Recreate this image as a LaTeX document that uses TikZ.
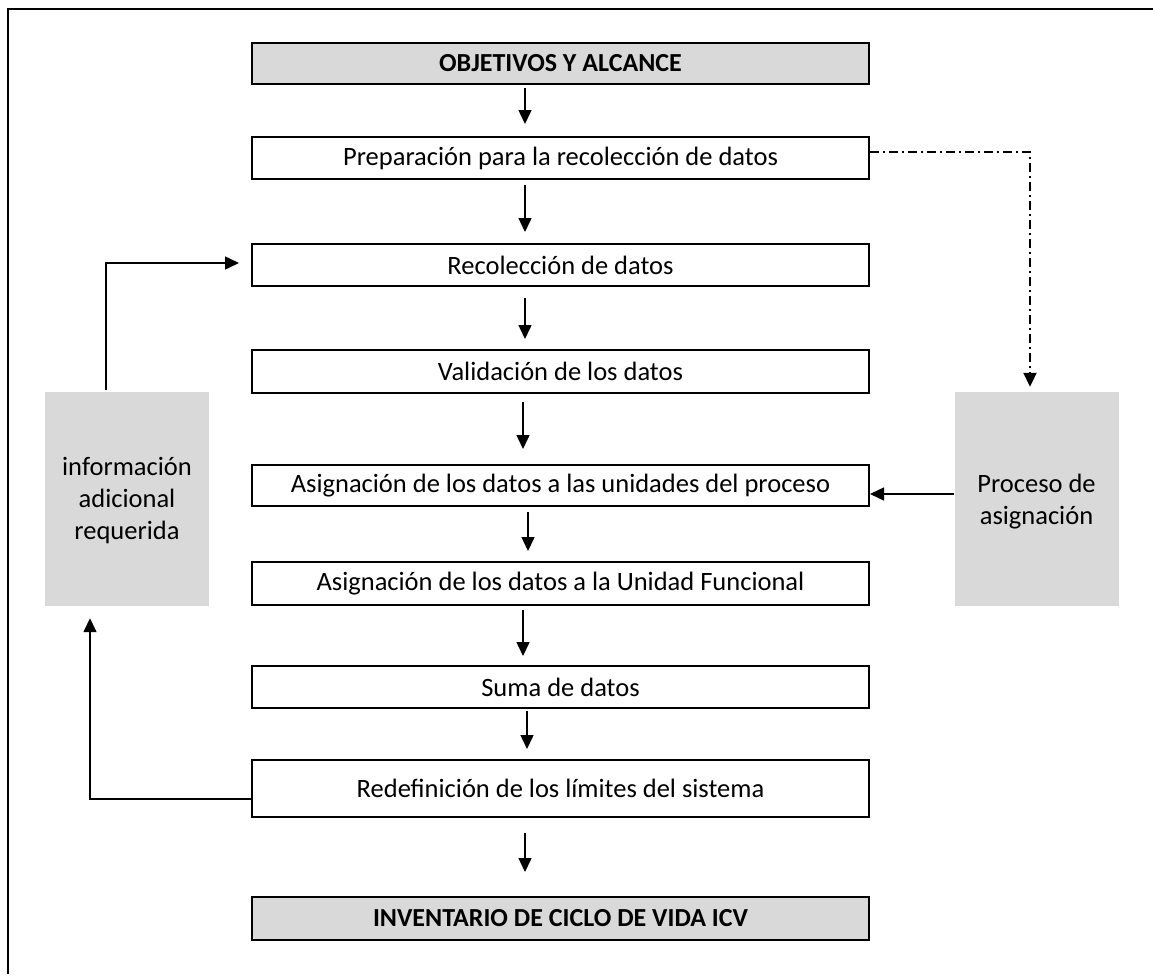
\documentclass[tikz,border=0pt]{standalone}
\usepackage{fontspec}
\setmainfont{Carlito}
\usetikzlibrary{arrows.meta}
\definecolor{boxgray}{HTML}{D9D9D9}
\begin{document}
\begin{tikzpicture}[x=1pt,y=-1pt,
  every node/.style={font=\fontsize{26.5}{32}\selectfont, inner sep=0pt, align=center},
  stage/.style={draw=black, line width=2pt, minimum width=617pt, fill=white},
  keystage/.style={stage, fill=boxgray, font=\fontsize{26}{32}\selectfont\bfseries},
  sidebox/.style={fill=boxgray, minimum width=164pt, minimum height=214pt},
  flow/.style={line width=1.5pt, -{Triangle[width=13pt,length=14pt]}},
  alloc/.style={line width=2pt, dash pattern=on 9pt off 4pt on 2pt off 4pt,
                -{Triangle[width=13pt,length=14pt]}}
]
\useasboundingbox (0,0) rectangle (1153,974);
% outer frame (only its top and left sides fall inside the page)
\draw[line width=2.8pt] (8,974) -- (8,9) -- (1153,9);

% main column
\node[keystage, minimum height=41pt] (obj)   at (560.5,63.5)  {OBJETIVOS Y ALCANCE};
\node[stage, minimum height=42pt]    (prep)  at (560.5,158)   {Preparación para la recolección de datos};
\node[stage, minimum height=42pt]    (recol) at (560.5,265)   {Recolección de datos};
\node[stage, minimum height=43pt]    (valid) at (560.5,371.5) {Validación de los datos};
\node[stage, minimum height=41pt]    (asigu) at (560.5,485.5) {Asignación de los datos a las unidades del proceso};
\node[stage, minimum height=43pt]    (asigf) at (560.5,583.5) {Asignación de los datos a la Unidad Funcional};
\node[stage, minimum height=42pt]    (suma)  at (560.5,687)   {Suma de datos};
\node[stage, minimum height=57pt]    (redef) at (560.5,788.5) {Redefinición de los límites del sistema};
\node[keystage, minimum height=43pt] (inv)   at (560.5,918.5) {INVENTARIO DE CICLO DE VIDA ICV};

% side boxes and their labels
\node[sidebox] (info) at (127,499)    {};
\node (infolabel) at ([yshift=-2pt]info.center) {información\\adicional\\requerida};
\node[sidebox] (proc) at (1036.5,499) {};
\node (proclabel) at ([yshift=-3pt]proc.center) {Proceso de\\asignación};

% downward flow
\draw[flow] ([xshift=-35.5pt,yshift=-3pt]obj.south)   -- ([xshift=-35.5pt,yshift=12pt]prep.north);
\draw[flow] ([xshift=-35.5pt,yshift=-5pt]prep.south)  -- ([xshift=-35.5pt,yshift=11pt]recol.north);
\draw[flow] ([xshift=-35.5pt,yshift=-11pt]recol.south)-- ([xshift=-35.5pt,yshift=10pt]valid.north);
\draw[flow] ([xshift=-37.5pt,yshift=-8pt]valid.south) -- ([xshift=-37.5pt,yshift=15pt]asigu.north);
\draw[flow] ([xshift=-32.5pt,yshift=-5pt]asigu.south) -- ([xshift=-32.5pt,yshift=10pt]asigf.north);
\draw[flow] ([xshift=-37.5pt,yshift=-4pt]asigf.south) -- ([xshift=-37.5pt,yshift=9pt]suma.north);
\draw[flow] ([xshift=-33.5pt,yshift=-2pt]suma.south)  -- ([xshift=-33.5pt,yshift=10pt]redef.north);
\draw[flow] ([xshift=-35.5pt,yshift=-15pt]redef.south)-- ([xshift=-35.5pt,yshift=24pt]inv.north);

% feedback loop on the left
\draw[flow] ([yshift=-10.5pt]redef.west) -| ([xshift=-37pt,yshift=-12pt]info.south);
\draw[flow] ([xshift=-21pt,yshift=2pt]info.north) |- ([xshift=-12pt,yshift=2pt]recol.west);

% allocation branch on the right
\draw[alloc] ([yshift=6pt]prep.east) -| ([xshift=-6.5pt,yshift=5pt]proc.north);
\draw[flow] ([yshift=5pt]proc.west) -- ([yshift=5pt]proc.west -| asigu.east);
\end{tikzpicture}
\end{document}
